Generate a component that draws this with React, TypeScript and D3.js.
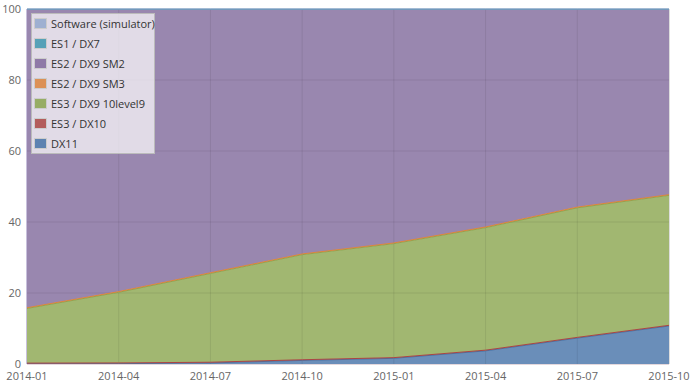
import React from "react";
import * as d3 from "d3";

const dates = ["2014-01", "2014-04", "2014-07", "2014-10", "2015-01", "2015-04", "2015-07", "2015-10"];
const seriesNames = ["DX11", "ES3 / DX10", "ES3 / DX9 10level9", "ES2 / DX9 SM3", "ES2 / DX9 SM2", "ES1 / DX7", "Software (simulator)"];
const seriesColors = ["#4572A7", "#AA4643", "#89A54E", "#DB843D", "#80699B", "#3D96AE", "#92A8CD"];
const dx11 = [0.05, 0.1, 0.3, 1.0, 1.6, 3.7, 7.3, 10.7];
const es3dx10 = [0.2, 0.2, 0.2, 0.2, 0.2, 0.2, 0.2, 0.2];
const es3dx9 = [15.4, 19.9, 25.0, 29.6, 32.1, 34.5, 36.5, 36.6];
const es2sm3 = [0.2, 0.2, 0.2, 0.2, 0.2, 0.2, 0.2, 0.2];
const es2sm2 = [84.05, 79.5, 74.2, 68.9, 65.8, 61.3, 55.7, 52.2];
const es1dx7 = [0.05, 0.05, 0.05, 0.05, 0.05, 0.05, 0.05, 0.05];
const software = [0.05, 0.05, 0.05, 0.05, 0.05, 0.05, 0.05, 0.05];
const yTicks = [0, 20, 40, 60, 80, 100];
const legendOrder = ["Software (simulator)", "ES1 / DX7", "ES2 / DX9 SM2", "ES2 / DX9 SM3", "ES3 / DX9 10level9", "ES3 / DX10", "DX11"];

const seriesValues = [dx11, es3dx10, es3dx9, es2sm3, es2sm2, es1dx7, software];

export default function App() {
  const W = 700, H = 389;
  const left = 27, right = 669, top = 9, bottom = 364;
  const x = d3.scalePoint<string>().domain(dates).range([left, right]);
  const y = d3.scaleLinear().domain([0, 100]).range([bottom, top]);

  const rows = dates.map((d, i) => {
    const r: any = { date: d };
    seriesNames.forEach((n, k) => (r[n] = seriesValues[k][i]));
    return r;
  });
  const stacked = d3.stack().keys(seriesNames)(rows);
  const area = d3.area<any>()
    .x((d) => x(d.data.date)!)
    .y0((d) => y(Math.min(100, d[0])))
    .y1((d) => y(Math.min(100, d[1])));
  const line = d3.line<any>()
    .x((d) => x(d.data.date)!)
    .y((d) => y(Math.min(100, d[1])));

  const font = "'Open Sans', 'DejaVu Sans', sans-serif";

  return (
    <svg width={W} height={H} style={{ position: "absolute", left: 0, top: 0, fontFamily: font }}>
      <rect x={0} y={0} width={W} height={H} fill="#fff" />
      {stacked.map((s, k) => (
        <path key={k} d={area(s as any)!} fill={seriesColors[k]} fillOpacity={0.8} stroke="none" />
      ))}
      {yTicks.filter((t) => t > 0 && t < 100).map((t) => (
        <line key={t} x1={left} x2={right} y1={y(t)} y2={y(t)} stroke="#000" strokeOpacity={0.08} />
      ))}
      {dates.slice(1, -1).map((d) => (
        <line key={d} x1={x(d)} x2={x(d)} y1={top} y2={bottom} stroke="#000" strokeOpacity={0.08} />
      ))}
      {stacked.map((s, k) => (
        <path key={"l" + k} d={line(s as any)!} fill="none" stroke={seriesColors[k]} strokeWidth={1} />
      ))}
      <line x1={right + 0.5} x2={right + 0.5} y1={top} y2={bottom} stroke="#ddd" />
      <line x1={left} x2={right} y1={bottom + 0.5} y2={bottom + 0.5} stroke="#e4d8dc" />
      <line x1={left - 0.5} x2={left - 0.5} y1={top} y2={bottom} stroke="#c8c0dc" />
      {yTicks.map((t) => (
        <text key={t} x={21} y={y(t) + 4} textAnchor="end" fontSize={11} fill="#666">{t}</text>
      ))}
      {dates.map((d) => (
        <text key={d} x={x(d)} y={380} textAnchor="middle" fontSize={11} fill="#666">{d}</text>
      ))}
      <g>
        <rect x={31.5} y={13.5} width={123} height={140} fill="#fff" fillOpacity={0.7} stroke="#bbb" />
        {legendOrder.map((n, i) => {
          const k = seriesNames.indexOf(n);
          const cy = 24 + i * 20;
          return (
            <g key={n}>
              <rect x={34.5} y={cy - 5.5} width={12} height={10} fill={seriesColors[k]} fillOpacity={0.85} stroke="#ccc" />
              <text x={51} y={cy + 4} fontSize={11} fill="#333">{n}</text>
            </g>
          );
        })}
      </g>
    </svg>
  );
}
